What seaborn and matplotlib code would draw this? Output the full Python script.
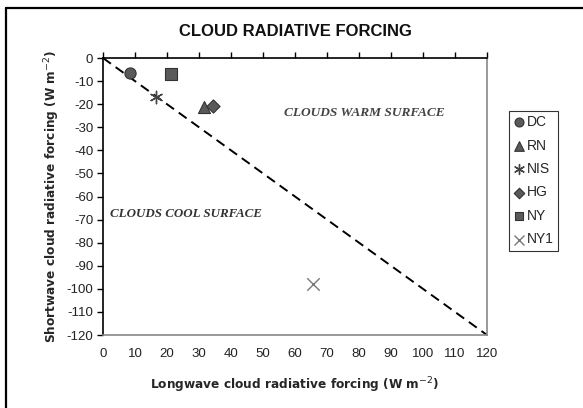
import matplotlib
matplotlib.use("Agg")
import matplotlib.pyplot as plt
import seaborn as sns
import pandas as pd
from matplotlib.lines import Line2D

sns.set_theme(style="white")
plt.rcParams['font.family'] = ['Liberation Sans', 'DejaVu Sans']

# Data
sites = ["DC", "RN", "NIS", "HG", "NY", "NY1"]
longwave = [8.3, 31.7, 16.6, 34.4, 21.1, 65.6]
shortwave = [-6.5, -21.3, -16.8, -20.6, -7.0, -97.8]
xticks = list(range(0, 121, 10))
yticks = list(range(-120, 1, 10))
diag_x = [0, 120]
diag_y = [0, -120]

df = pd.DataFrame({"site": sites, "lw": longwave, "sw": shortwave})

markers = {"DC": "o", "RN": "^", "NIS": (6, 2, 0), "HG": "D", "NY": "s", "NY1": "x"}
sizes = {"DC": 65, "RN": 75, "NIS": 80, "HG": 45, "NY": 65, "NY1": 80}
colors = {"NIS": "#444444", "NY1": "#777777"}
fill = "#5a5a5a"
edge = "#333333"

fig = plt.figure(figsize=(5.83, 4.08), dpi=100)
ax = fig.add_axes([0.1767, 0.1789, 0.6586, 0.6789])

sns.lineplot(x=diag_x, y=diag_y, ax=ax, color="black", linestyle=(0, (5, 3)), linewidth=1.4, zorder=2)

for s in sites:
    sub = df[df.site == s]
    m = markers[s]
    if m == "x" or isinstance(m, tuple):
        sns.scatterplot(data=sub, x="lw", y="sw", marker=m, s=sizes[s], color=colors[s],
                        linewidth=1.0, ax=ax, zorder=3, label=s)
    else:
        sns.scatterplot(data=sub, x="lw", y="sw", marker=m, s=sizes[s], color=fill,
                        edgecolor=edge, linewidth=0.8, ax=ax, zorder=3, label=s)

ax.set_xlim(0, 120)
ax.set_ylim(-120, 0)
ax.set_xticks(xticks)
ax.set_yticks(yticks)
ax.set_xticklabels([str(v) for v in xticks])
ax.set_yticklabels([str(v) for v in yticks])
ax.tick_params(axis='x', bottom=False, top=True, labelbottom=True, labeltop=False,
               direction='out', length=4, width=1, color='black', pad=5.5,
               labelsize=9.5, labelcolor='#222222')
ax.tick_params(axis='y', left=True, direction='out', length=4, width=1, color='black',
               pad=3, labelsize=9.5, labelcolor='#222222')

for side in ['left', 'top']:
    ax.spines[side].set_color('black')
    ax.spines[side].set_linewidth(1.2)
for side in ['right', 'bottom']:
    ax.spines[side].set_color('#888888')
    ax.spines[side].set_linewidth(1.2)

ax.set_xlabel("Longwave cloud radiative forcing (W m$^{-2}$)", family='DejaVu Sans',
              fontweight='bold', fontstretch='condensed', fontsize=9.7, va='center')
ax.set_ylabel("Shortwave cloud radiative forcing (W m$^{-2}$)", family='DejaVu Sans',
              fontweight='bold', fontstretch='condensed', fontsize=9.7, va='center')
ax.xaxis.set_label_coords(0.5, -0.18)
ax.yaxis.set_label_coords(-0.133, 0.5)

fig.text(0.506, 0.922, "CLOUD RADIATIVE FORCING", ha='center', va='center',
         fontsize=12, fontweight='bold', color='#111111')

ax.text(56.6, -23.9, "CLOUDS WARM SURFACE", family='Liberation Serif', style='italic',
        fontweight='bold', fontsize=9.6, color='#444444', ha='left', va='center')
ax.text(2.2, -67.4, "CLOUDS COOL SURFACE", family='Liberation Serif', style='italic',
        fontweight='bold', fontsize=9.4, color='#333333', ha='left', va='center')

handles, labels = ax.get_legend_handles_labels()
leg = ax.legend(handles, labels, loc='upper left', bbox_to_anchor=(0.873, 0.728),
                bbox_transform=fig.transFigure, frameon=True, fancybox=False,
                edgecolor='black', fontsize=10, handlelength=0.8, handletextpad=0.2,
                borderpad=0.3, labelspacing=0.68, borderaxespad=0, markerscale=0.8)
leg.get_frame().set_linewidth(0.8)

# outer frame lines (top and left)
fig.add_artist(Line2D([0.0103, 1.0], [0.9816, 0.9816], transform=fig.transFigure,
                      color='black', linewidth=1.6))
fig.add_artist(Line2D([0.0103, 0.0103], [0.0, 0.9816], transform=fig.transFigure,
                      color='black', linewidth=1.6))

fig.savefig("out.png", dpi=100)
